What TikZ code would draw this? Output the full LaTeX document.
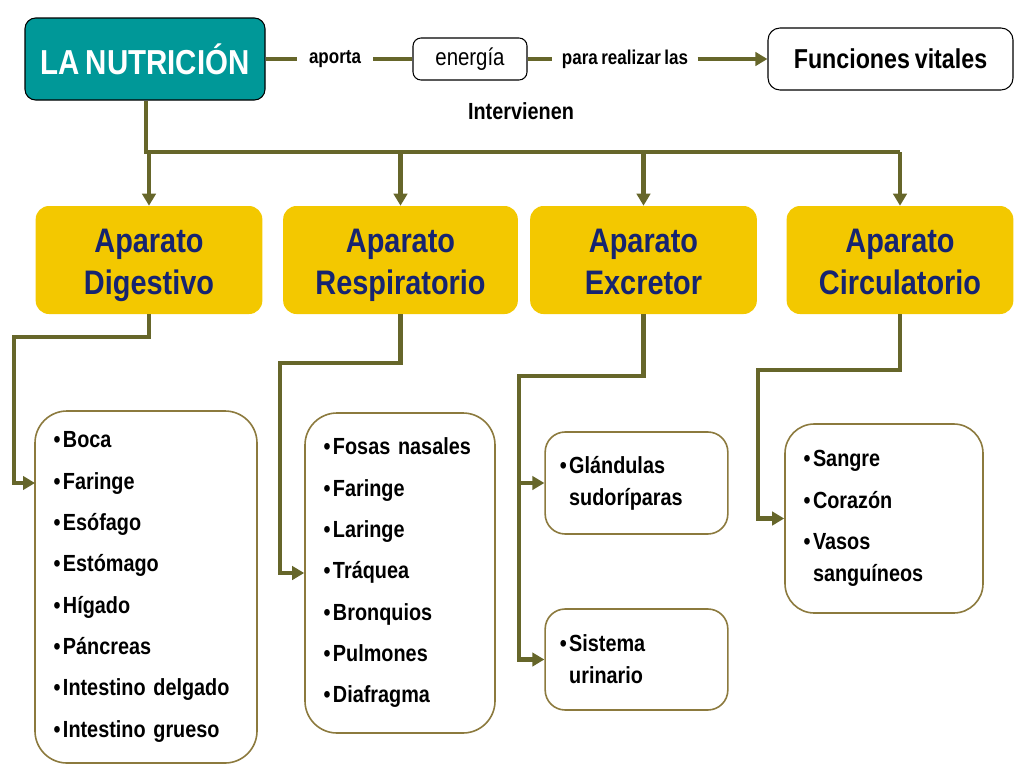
\documentclass[tikz,border=0pt]{standalone}
\usepackage{fontspec}
\setmainfont{Liberation Sans}[FakeStretch=0.85, WordSpace=0.75]
\usetikzlibrary{arrows.meta,positioning}
\definecolor{tealbox}{RGB}{0,152,152}
\definecolor{goldbox}{RGB}{243,200,0}
\definecolor{navytext}{RGB}{22,36,112}
\definecolor{linkcol}{RGB}{102,102,42}
\definecolor{listline}{RGB}{140,122,62}
\newcommand{\itm}[1]{\makebox[7pt][l]{\textbullet}#1}
\newcommand{\cont}{\hspace*{7pt}}
\newcommand{\topline}{\rule{0pt}{30pt}}

\begin{document}
\begin{tikzpicture}[x=0.75pt, y=-0.75pt,
        mainbox/.style={draw=black, fill=tealbox, rounded corners=8pt, line width=0.8pt, text=white,
            font=\fontsize{26}{30}\selectfont\bfseries, minimum width=180pt, minimum height=61.5pt},
        plainbox/.style={draw=black, fill=white, rounded corners=6pt, line width=0.8pt},
        word/.style={inner xsep=9pt, font=\fontsize{15}{18}\selectfont\bfseries},
        aparato/.style={fill=goldbox, rounded corners=10pt, text=navytext, align=center,
            font=\fontsize{25.5}{32}\selectfont\bfseries, minimum width=170pt, minimum height=81pt},
        listbox/.style={draw=listline, fill=white, line width=1.2pt, align=left, inner xsep=14pt,
            font=\fontsize{17.5}{24}\selectfont\bfseries},
        link/.style={draw=linkcol, line width=3.5pt},
        arrow/.style={link, -{Triangle[length=9pt,width=10pt]}},
    ]
        \useasboundingbox (0,0) rectangle (1027,771);

        % Top row
        \node[mainbox] (nutri) at (145,59) {LA NUTRICIÓN};
        \node[word] (aporta) at (335,59) {aporta};
        \node[plainbox, minimum width=85.5pt, minimum height=31.5pt, font=\fontsize{18}{20}\selectfont] (energia) at (470,59) {energía};
        \node[word, inner xsep=7pt] (para) at (625,59) {para realizar las};
        \node[plainbox, rounded corners=9pt, minimum width=183.75pt, minimum height=46.5pt,
            font=\fontsize{20.5}{24}\selectfont\bfseries] (func) at (890.5,59) {Funciones vitales};
        \node[word, font=\fontsize{17.5}{20}\selectfont\bfseries] (interv) at (521,111) {Intervienen};

        \draw[link] (nutri) -- (aporta);
        \draw[link] (aporta) -- (energia);
        \draw[link] (energia) -- (para);
        \draw[arrow] (para) -- (func);

        % Aparatos
        \node[aparato] (dig) at (149,260) {\topline Aparato\\\strut Digestivo};
        \node[aparato, minimum width=176pt] (resp) at (400.5,260) {\topline Aparato\\\strut Respiratorio};
        \node[aparato] (excr) at (643.5,260) {\topline Aparato\\\strut Excretor};
        \node[aparato] (circ) at (900,260) {\topline Aparato\\\strut Circulatorio};

        % Trunk
        \coordinate (trunk) at (146,152);
        \draw[link] (nutri.south -| trunk) -- (trunk) -- (trunk -| circ.north);
        \foreach \n in {dig,resp,excr,circ}
            \draw[arrow] (trunk -| \n.north) -- (\n.north);

        % Lists
        \node[listbox, rounded corners=24pt, text width=138.5pt, minimum height=264pt] (ldig) at (146,587)
            {\itm{Boca}\\[7pt]\itm{Faringe}\\[7pt]\itm{Esófago}\\[7pt]\itm{Estómago}\\[7pt]\itm{Hígado}\\[7pt]\itm{Páncreas}\\[7pt]\itm{Intestino delgado}\\[7pt]\itm{Intestino grueso}};
        \node[listbox, rounded corners=24pt, text width=114.5pt, minimum height=240pt] (lresp) at (400,573)
            {\itm{Fosas nasales}\\[7pt]\itm{Faringe}\\[7pt]\itm{Laringe}\\[7pt]\itm{Tráquea}\\[7pt]\itm{Bronquios}\\[7pt]\itm{Pulmones}\\[7pt]\itm{Diafragma}};
        \node[listbox, rounded corners=15pt, inner xsep=11pt, text width=115pt, minimum height=76.5pt] (lglan) at (636.5,483)
            {\itm{Glándulas}\\\cont sudoríparas};
        \node[listbox, rounded corners=15pt, inner xsep=11pt, text width=115pt, minimum height=75.75pt] (lsis) at (636.5,659.5)
            {\itm{Sistema}\\\cont urinario};
        \node[listbox, rounded corners=22pt, text width=120.5pt, minimum height=141.75pt] (lcirc) at (884,518.5)
            {\itm{Sangre}\\[7pt]\itm{Corazón}\\[7pt]\itm{Vasos}\\\cont sanguíneos};

        % Branches
        \coordinate (d1) at (14,337);
        \coordinate (dtip) at (35,483);
        \coordinate (r1) at (280,363);
        \coordinate (e1) at (519,376);
        \coordinate (c1) at (758,370);
        \draw[arrow] (dig.south) |- (d1) |- (dtip);
        \draw[arrow] (resp.south) |- (r1) |- (lresp.west);
        \draw[arrow] (excr.south) |- (e1) |- (lsis.west);
        \draw[arrow] (e1 |- lglan.west) -- (lglan.west);
        \draw[arrow] (circ.south) |- (c1) |- (lcirc.west);
    \end{tikzpicture}
\end{document}
